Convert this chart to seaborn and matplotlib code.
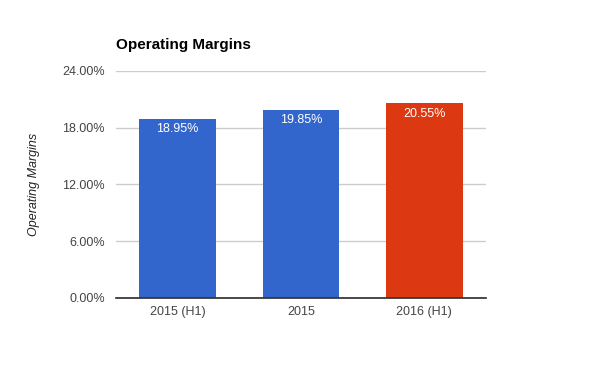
import matplotlib
matplotlib.use("Agg")
import matplotlib.pyplot as plt
import seaborn as sns
import pandas as pd

sns.set_theme(style="white")
plt.rcParams["font.family"] = ["Liberation Sans", "DejaVu Sans"]

periods = ["2015 (H1)", "2015", "2016 (H1)"]
margins = [18.95, 19.85, 20.55]
bar_colors = ["#3366CC", "#3366CC", "#DC3912"]
y_ticks = [0, 6, 12, 18, 24]

data = pd.DataFrame({"period": periods, "margin": margins})

fig = plt.figure(figsize=(6, 3.71), dpi=100)
ax = fig.add_axes([0.193, 0.197, 0.617, 0.612])

sns.barplot(data=data, x="period", y="margin", hue="period", palette=bar_colors,
            width=0.62, saturation=1, legend=False, linewidth=0, ax=ax)

ax.set_xlim(-0.5, 2.5)
ax.set_ylim(0, 24)
ax.set_yticks(y_ticks)
ax.set_yticklabels(["%.2f%%" % t for t in y_ticks])
ax.yaxis.grid(True, color="#cccccc", linewidth=1)
ax.set_axisbelow(True)
for side in ["top", "right", "left"]:
    ax.spines[side].set_visible(False)
ax.spines["bottom"].set_color("#333333")
ax.tick_params(axis="both", length=0, labelsize=9, colors="#444444", pad=8)
ax.tick_params(axis="x", pad=6)

for i, v in enumerate(margins):
    ax.annotate("%.2f%%" % v, (i, v), xytext=(0, -3), textcoords="offset points",
                ha="center", va="top", color="white", fontsize=9)

ax.set_xlabel("")
ax.set_ylabel("Operating Margins", fontsize=9, style="italic", color="#222222", labelpad=16)
fig.text(0.193, 0.878, "Operating Margins", fontsize=11, fontweight="bold", color="black",
         ha="left", va="center")

fig.savefig("out.png", dpi=100)
